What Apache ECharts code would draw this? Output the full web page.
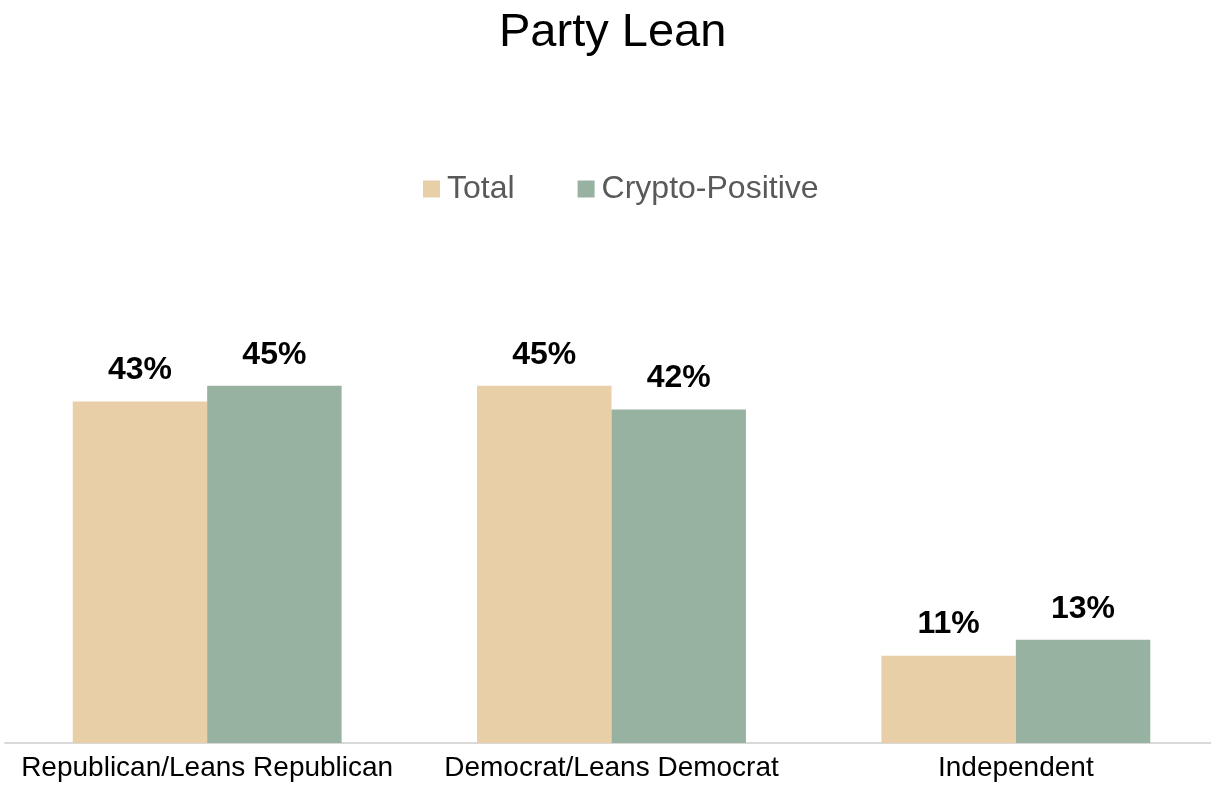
<!DOCTYPE html>
<html>
<head>
<meta charset="utf-8">
<script src="https://cdn.jsdelivr.net/npm/echarts@6/dist/echarts.min.js"></script>
<style>html,body{margin:0;padding:0;background:#fff;overflow:hidden}#c{width:1218px;height:786px}</style>
</head>
<body>
<div id="c"></div>
<script>
const categories = ['Republican/Leans Republican', 'Democrat/Leans Democrat', 'Independent'];
const totalValues = [43, 45, 11];
const cryptoValues = [45, 42, 13];
const seriesNames = ['Total', 'Crypto-Positive'];

const chart = echarts.init(document.getElementById('c'));
const font = '"Liberation Sans", Arial, sans-serif';
const labelCfg = {
  show: true, position: 'top', distance: 15,
  formatter: p => p.value + '%',
  fontFamily: font, fontWeight: 'bold', fontSize: 32, color: '#000'
};
chart.setOption({
  animation: false,
  title: {
    text: 'Party Lean', left: 499, top: 10, padding: 0,
    textStyle: { fontFamily: font, fontSize: 47, fontWeight: 'normal', color: '#000' }
  },
  legend: {
    top: 173, left: 423, itemWidth: 17, itemHeight: 17, itemGap: 63,
    icon: 'rect', padding: 0,
    textStyle: { fontFamily: font, fontSize: 32, color: '#595959', padding: [0, 0, 0, 2] },
    data: seriesNames
  },
  grid: { left: 5, right: 0, top: 346, bottom: 43, containLabel: false },
  xAxis: {
    type: 'category', data: categories,
    axisLine: { lineStyle: { color: '#D9D9D9', width: 2 } },
    axisTick: { show: false },
    axisLabel: { fontFamily: font, fontSize: 28, color: '#000', margin: 11, interval: 0 }
  },
  yAxis: { type: 'value', min: 0, max: 50, show: false, splitLine: { show: false } },
  series: [
    { name: seriesNames[0], type: 'bar', data: totalValues, itemStyle: { color: '#E8CFA8' },
      barGap: '0%', barCategoryGap: '33.5%', label: labelCfg },
    { name: seriesNames[1], type: 'bar', data: cryptoValues, itemStyle: { color: '#97B2A0' },
      barGap: '0%', barCategoryGap: '33.5%', label: labelCfg }
  ]
});
</script>
</body>
</html>
